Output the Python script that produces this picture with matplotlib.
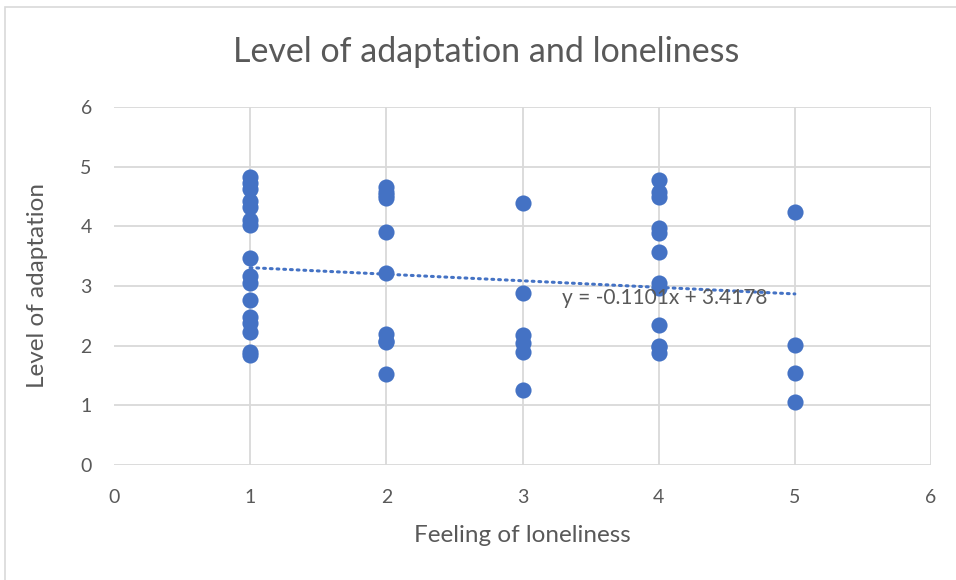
import matplotlib.pyplot as plt
from matplotlib.patches import Rectangle

# feeling of loneliness (x) and level of adaptation (y)
loneliness = [1]*16 + [2]*10 + [3]*6 + [4]*12 + [5]*4
adaptation = [4.83, 4.73, 4.63, 4.42, 4.32, 4.10, 4.02, 3.47, 3.17, 3.05,
              2.77, 2.48, 2.38, 2.23, 1.89, 1.84,
              4.66, 4.58, 4.52, 4.47, 3.90, 3.22, 2.20, 2.08, 2.06, 1.52,
              4.39, 2.88, 2.18, 2.04, 1.89, 1.26,
              4.78, 4.58, 4.49, 3.97, 3.88, 3.57, 3.05, 2.97, 2.35, 2.00,
              1.98, 1.88,
              4.24, 2.01, 1.54, 1.06]

# linear trendline as printed on the chart
slope = -0.1101
intercept = 3.4178
trend_x = [1, 5]
ticks = [0, 1, 2, 3, 4, 5, 6]

blue = '#4472C4'
grey = '#595959'
plt.rcParams['font.family'] = ['Lato', 'DejaVu Sans']

fig = plt.figure(figsize=(9.56, 5.8), dpi=100)
ax = fig.add_axes([114/956, 1-465/580, (931-114)/956, (465-107)/580])

# outer chart border
fig.patches.append(Rectangle((5/956, -0.01), 1.0, 1-7/580+0.01, transform=fig.transFigure,
                             fill=False, edgecolor='#D9D9D9', lw=1.2))

for v in ticks:
    ax.axhline(v, color='#D9D9D9', lw=1.3, zorder=0)
    if v > 0:
        ax.axvline(v, color='#D9D9D9', lw=1.3, zorder=0)

ax.scatter(loneliness, adaptation, s=135, color=blue, zorder=3, linewidths=0)
ax.plot(trend_x, [slope*x + intercept for x in trend_x], color=blue, lw=2.2,
        linestyle=(0, (0.6, 1.6)), dash_capstyle='round', zorder=4)
ax.text(3.29, 2.80, 'y = -0.1101x + 3.4178', fontsize=15, color=grey,
        va='center', ha='left', zorder=5)

ax.set_xlim(0, 6)
ax.set_ylim(0, 6)
ax.set_xticks(ticks)
ax.set_yticks(ticks)
for s in ax.spines.values():
    s.set_visible(False)
ax.tick_params(length=0, labelsize=14, labelcolor=grey)
ax.tick_params(axis='x', pad=17)
ax.tick_params(axis='y', pad=16)

ax.set_xlabel('Feeling of loneliness', fontsize=17.5, color=grey, labelpad=14)
ax.set_ylabel('Level of adaptation', fontsize=17.5, color=grey, labelpad=23)
fig.text(486/956, 1-52/580, 'Level of adaptation and loneliness', fontsize=24.5,
         color=grey, ha='center', va='center')

fig.savefig('out.png', dpi=100)
